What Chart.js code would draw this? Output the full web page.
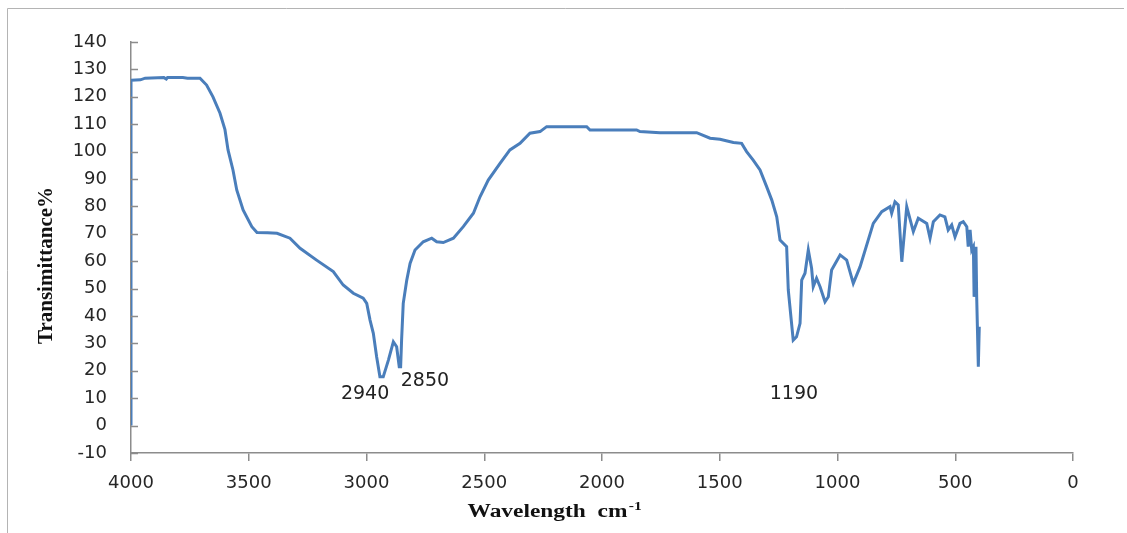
<!DOCTYPE html>
<html>
<head>
<meta charset="utf-8">
<script src="https://cdn.jsdelivr.net/npm/chart.js@4"></script>
<style>
  html, body { margin: 0; padding: 0; background: #fff; }
  #wrap { width: 1127px; height: 533px; position: relative; }
</style>
</head>
<body>
<div id="wrap"><canvas id="ftir"></canvas></div>
<script>
// FTIR spectrum (wavenumber in cm-1, transmittance %)
const wavenumbers = [
  4000, 4000, 3960, 3940, 3860, 3850, 3845, 3780, 3760, 3707,
  3679, 3652, 3622, 3601, 3588, 3567, 3551, 3524, 3487, 3465,
  3420, 3380, 3325, 3282, 3212, 3141, 3099, 3056, 3014, 2999,
  2985, 2971, 2957, 2943, 2929, 2907, 2886, 2872, 2861, 2855,
  2851, 2844, 2829, 2815, 2794, 2759, 2723, 2702, 2674, 2631,
  2589, 2546, 2518, 2483, 2433, 2391, 2348, 2306, 2263, 2235,
  2065, 2051, 1853, 1839, 1754, 1598, 1541, 1499, 1442, 1407,
  1386, 1358, 1329, 1301, 1279, 1258, 1244, 1216, 1209, 1188,
  1174, 1159, 1152, 1138, 1124, 1110, 1103, 1089, 1074, 1053,
  1039, 1025, 989, 961, 933, 904, 848, 812, 777, 770,
  756, 742, 727, 706, 678, 657, 621, 607, 593, 565,
  544, 530, 515, 501, 480, 466, 451, 445, 437, 430,
  423, 420, 412, 409, 402, 398
];
const transmittance = [
  0, 126, 126.2, 126.8, 127, 126.5, 127, 127, 126.8, 126.8,
  124.3, 120, 114, 108, 100.6, 93.3, 86, 78.7, 72.6, 70.5,
  70.4, 70.2, 68.4, 64.7, 60.4, 56.2, 51.3, 48.3, 46.5, 44.6,
  38.5, 33.7, 25.1, 17.8, 17.8, 23.9, 30.6, 28.8, 21.5, 21.5,
  31.2, 44.6, 53.1, 59.2, 64.1, 67.1, 68.4, 67.1, 66.8, 68.4,
  72.6, 77.5, 83.5, 89.6, 95.7, 100.6, 103, 106.7, 107.3, 109.1,
  109.1, 107.9, 107.9, 107.3, 106.9, 106.9, 104.9, 104.5, 103.3, 103,
  100, 96.9, 93.3, 87.2, 82.3, 76.2, 67.7, 65.3, 49.5, 31.2,
  32.4, 37.3, 53.1, 55.6, 64.1, 57.4, 50.7, 53.8, 50.7, 45.2,
  47, 56.8, 62.3, 60.4, 51.9, 58, 73.8, 78.1, 79.9, 77.5,
  81.7, 80.5, 59.8, 79.9, 70.8, 75.7, 73.8, 68.4, 74.4, 76.9,
  76.2, 71.4, 73.2, 68.9, 73.8, 74.4, 72.6, 65.3, 71.4, 64.1,
  65.3, 47, 65.3, 47, 21.5, 36.1
];

// peak labels, placed in data units
const peakLabels = ['2940', '2850', '1190'];
const peakLabelX = [3006, 2752, 1185];
const peakLabelY = [11.5, 16.3, 11.5];

const xTitle = 'Wavelength  cm';
const xTitleSup = '-1';
const yTitle = 'Transimittance%';

const points = wavenumbers.map((w, i) => ({ x: w, y: transmittance[i] }));

const extras = {
  id: 'extras',
  beforeDraw(chart) {
    const ctx = chart.ctx;
    ctx.save();
    ctx.fillStyle = '#fff';
    ctx.fillRect(0, 0, chart.width, chart.height);
    // frame (only top and left edges are in the picture)
    ctx.strokeStyle = '#b4b4b4';
    ctx.lineWidth = 1;
    ctx.beginPath();
    ctx.moveTo(7.5, chart.height);
    ctx.lineTo(7.5, 8.5);
    ctx.lineTo(1124, 8.5);
    ctx.stroke();
    ctx.restore();
  },
  afterDatasetsDraw(chart) {
    // y ticks point inward, Excel style
    const ctx = chart.ctx;
    const ys = chart.scales.y;
    ctx.save();
    ctx.strokeStyle = '#8c8c8c';
    ctx.lineWidth = 1.5;
    ctx.beginPath();
    ys.ticks.forEach(t => {
      const py = Math.round(ys.getPixelForValue(t.value)) + 0.5;
      ctx.moveTo(ys.right, py);
      ctx.lineTo(ys.right + 7, py);
    });
    ctx.stroke();
    ctx.restore();
  },
  afterDraw(chart) {
    const ctx = chart.ctx;
    const xs = chart.scales.x, ys = chart.scales.y;
    ctx.save();
    // peak labels
    ctx.fillStyle = '#222';
    ctx.font = '19px "DejaVu Sans"';
    ctx.textAlign = 'center';
    ctx.textBaseline = 'middle';
    peakLabels.forEach((t, i) => {
      ctx.fillText(t, xs.getPixelForValue(peakLabelX[i]), ys.getPixelForValue(peakLabelY[i]));
    });

    // x axis title (stretched wide like the source)
    ctx.fillStyle = '#111';
    ctx.font = 'bold 18px "Liberation Serif"';
    ctx.textAlign = 'left';
    ctx.textBaseline = 'alphabetic';
    const sx = 1.3;
    const w1 = ctx.measureText(xTitle).width * sx;
    ctx.font = 'bold 12px "Liberation Serif"';
    const w2 = ctx.measureText(xTitleSup).width * sx;
    const left = 554 - (w1 + w2) / 2;
    ctx.save();
    ctx.translate(left, 517);
    ctx.scale(sx, 1);
    ctx.font = 'bold 18px "Liberation Serif"';
    ctx.fillText(xTitle, 0, 0);
    ctx.font = 'bold 12px "Liberation Serif"';
    ctx.fillText(xTitleSup, w1 / sx + 1, -7);
    ctx.restore();

    // y axis title
    ctx.save();
    ctx.translate(52, (ys.top + ys.bottom) / 2 + 18);
    ctx.rotate(-Math.PI / 2);
    ctx.font = 'bold 21px "Liberation Serif"';
    ctx.textAlign = 'center';
    ctx.fillText(yTitle, 0, 0);
    ctx.restore();
    ctx.restore();
  }
};

new Chart(document.getElementById('ftir'), {
  type: 'scatter',
  data: {
    datasets: [{
      data: points,
      showLine: true,
      borderColor: '#4a7ebb',
      borderWidth: 3,
      pointRadius: 0,
      tension: 0,
      fill: false
    }]
  },
  options: {
    responsive: true,
    maintainAspectRatio: false,
    animation: false,
    layout: { padding: { top: 42, right: 54, left: 0, bottom: 0 } },
    plugins: {
      legend: { display: false },
      tooltip: { enabled: false }
    },
    scales: {
      x: {
        type: 'linear',
        reverse: true,
        min: 0,
        max: 4000,
        afterFit(scale) { scale.height = 80; },
        border: { color: '#8c8c8c', width: 1.5 },
        grid: { display: true, drawOnChartArea: false, color: '#8c8c8c', lineWidth: 1.5, tickLength: 8 },
        ticks: {
          stepSize: 500,
          padding: 12,
          color: '#262626',
          font: { family: 'DejaVu Sans', size: 18 },
          maxRotation: 0,
          callback: v => String(v)
        }
      },
      y: {
        min: -10,
        max: 140,
        afterFit(scale) { scale.width = 131; },
        border: { color: '#8c8c8c', width: 1.5 },
        grid: { display: true, drawOnChartArea: false, drawTicks: false },
        ticks: {
          stepSize: 10,
          padding: 24,
          color: '#262626',
          font: { family: 'DejaVu Sans', size: 18 },
          callback: v => String(v)
        }
      }
    }
  },
  plugins: [extras]
});
</script>
</body>
</html>
